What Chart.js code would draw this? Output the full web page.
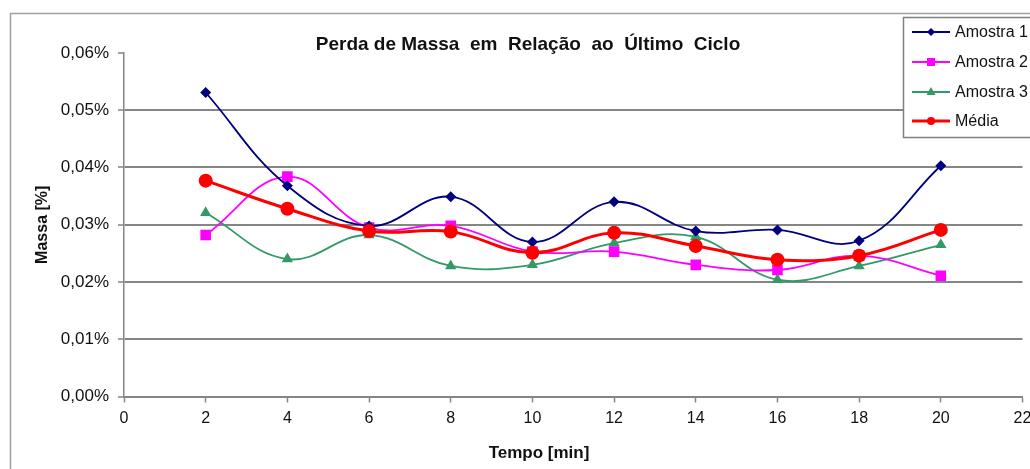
<!DOCTYPE html>
<html>
<head>
<meta charset="utf-8">
<script src="https://cdn.jsdelivr.net/npm/chart.js@4.4.0/dist/chart.umd.min.js"></script>
<style>
  html, body { margin: 0; padding: 0; background: #fff; }
  #wrap { width: 1030px; height: 469px; }
</style>
</head>
<body>
<div id="wrap"><canvas id="massaChart" width="1030" height="469"></canvas></div>
<script>
  // Dados
  const tempos = [2, 4, 6, 8, 10, 12, 14, 16, 18, 20];
  const amostra1 = [0.0531, 0.0368, 0.0298, 0.0349, 0.0270, 0.0340, 0.0289, 0.0291, 0.0272, 0.0403];
  const amostra2 = [0.0282, 0.0384, 0.0295, 0.0298, 0.0253, 0.0253, 0.0230, 0.0221, 0.0246, 0.0211];
  const amostra3 = [0.0321, 0.0240, 0.0282, 0.0228, 0.0230, 0.0268, 0.0279, 0.0204, 0.0228, 0.0265];
  const media = [0.0377, 0.0328, 0.0289, 0.0288, 0.0251, 0.0286, 0.0263, 0.0239, 0.0246, 0.0291];
  const yTickLabels = ['0,00%', '0,01%', '0,02%', '0,03%', '0,04%', '0,05%', '0,06%'];
  const xTickLabels = ['0', '2', '4', '6', '8', '10', '12', '14', '16', '18', '20', '22'];

  const toPoints = (vals) => tempos.map((t, i) => ({ x: t, y: vals[i] }));
  const FONT = 'Arial, "Liberation Sans", sans-serif';
  const GRID = '#858585';

  const series = [
    { label: 'Amostra 1', data: amostra1, color: '#000080', style: 'rectRot', r: 5.5, lw: 1.8 },
    { label: 'Amostra 2', data: amostra2, color: '#FF00FF', style: 'rect', r: 7.5, lw: 1.8 },
    { label: 'Amostra 3', data: amostra3, color: '#339966', style: 'triangle', r: 6.5, lw: 1.8 },
    { label: 'Média', data: media, color: '#FF0000', style: 'circle', r: 7, lw: 3 }
  ];

  // moldura, título, título do eixo x e legenda
  const extras = {
    id: 'extras',
    beforeDraw(chart) {
      const c = chart.ctx;
      c.save();
      c.strokeStyle = '#a0a0a0';
      c.lineWidth = 1.5;
      c.strokeRect(10.5, 13.5, 1040, 480);
      c.restore();
    },
    afterDraw(chart) {
      const c = chart.ctx;
      c.save();
      c.fillStyle = '#111';
      c.textAlign = 'center';
      c.textBaseline = 'middle';
      c.font = 'bold 19px ' + FONT;
      c.fillText('Perda de Massa  em  Relação  ao  Último  Ciclo', 528, 45);
      c.font = 'bold 17px ' + FONT;
      c.fillText('Tempo [min]', 539, 453);

      // legenda
      c.fillStyle = '#fff';
      c.fillRect(903.5, 17.5, 140, 120);
      c.strokeStyle = '#808080';
      c.lineWidth = 1.5;
      c.strokeRect(903.5, 17.5, 140, 120);
      const rows = [32, 62, 92, 121];
      series.forEach((s, i) => {
        const y = rows[i];
        c.strokeStyle = s.color;
        c.lineWidth = s.lw;
        c.beginPath();
        c.moveTo(912, y);
        c.lineTo(950, y);
        c.stroke();
        c.fillStyle = s.color;
        c.beginPath();
        if (s.style === 'rectRot') {
          c.moveTo(931, y - 4); c.lineTo(935, y); c.lineTo(931, y + 4); c.lineTo(927, y);
        } else if (s.style === 'rect') {
          c.rect(927, y - 4, 8, 8);
        } else if (s.style === 'triangle') {
          c.moveTo(931, y - 5); c.lineTo(935.5, y + 3); c.lineTo(926.5, y + 3);
        } else {
          c.arc(931, y, 4, 0, Math.PI * 2);
        }
        c.closePath();
        c.fill();
        c.fillStyle = '#111';
        c.textAlign = 'left';
        c.font = '16px ' + FONT;
        c.fillText(s.label, 955, y + 1);
      });
      c.restore();
    }
  };

  new Chart(document.getElementById('massaChart'), {
    type: 'line',
    data: {
      datasets: series.map((s, i) => ({
        label: s.label,
        data: toPoints(s.data),
        borderColor: s.color,
        backgroundColor: s.color,
        borderWidth: s.lw,
        pointStyle: s.style,
        pointRadius: s.r,
        pointBorderWidth: 0,
        tension: 0.4,
        order: i === 3 ? 0 : i + 1
      }))
    },
    options: {
      responsive: false,
      animation: false,
      layout: { padding: { left: 0, right: 7, top: 53, bottom: 0 } },
      plugins: {
        legend: { display: false },
        tooltip: { enabled: false },
        title: { display: false }
      },
      scales: {
        x: {
          type: 'linear',
          min: 0,
          max: 22,
          ticks: {
            stepSize: 2,
            color: '#111',
            font: { family: FONT, size: 16 },
            padding: 6,
            maxRotation: 0,
            callback: (v, i) => xTickLabels[i]
          },
          grid: { drawOnChartArea: false, tickLength: 6, tickColor: GRID, tickWidth: 1.5 },
          border: { color: GRID, width: 1.5 },
          afterFit(scale) {
            scale.height = 72.5;
            scale.paddingLeft = 0;
            scale.paddingRight = 0;
          }
        },
        y: {
          min: 0,
          max: 0.06,
          ticks: {
            stepSize: 0.01,
            color: '#111',
            font: { family: FONT, size: 17 },
            padding: 9,
            callback: (v, i) => yTickLabels[i]
          },
          grid: {
            color: (ctx) => (ctx.tick && ctx.tick.value > 0.059 ? 'rgba(0,0,0,0)' : GRID),
            lineWidth: 2,
            tickLength: 6,
            tickColor: GRID,
            tickWidth: 1.5
          },
          border: { color: GRID, width: 1.5 },
          title: {
            display: true,
            text: 'Massa [%]',
            color: '#111',
            font: { family: FONT, size: 16, weight: 'bold' },
            padding: { top: 33, bottom: 0 }
          },
          afterFit(scale) {
            scale.width = 124;
            scale.paddingTop = 0;
            scale.paddingBottom = 0;
          }
        }
      }
    },
    plugins: [extras]
  });
</script>
</body>
</html>
